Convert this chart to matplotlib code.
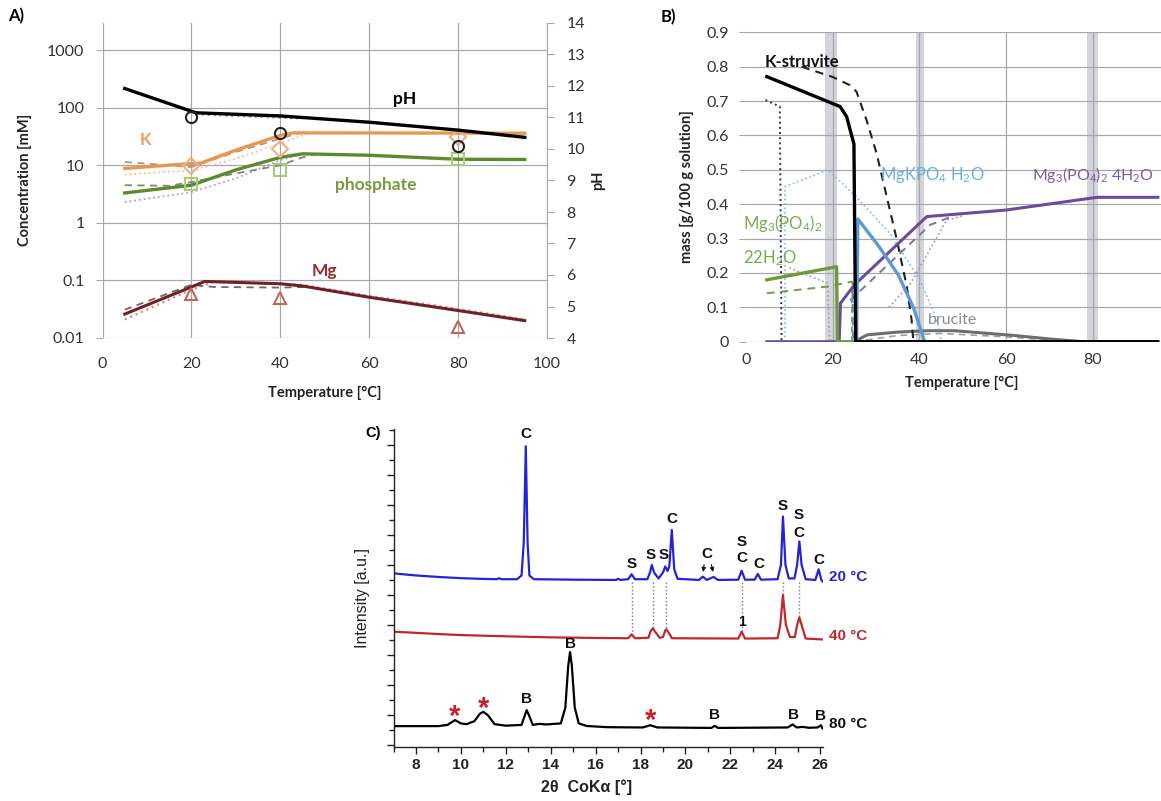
import numpy as np
import matplotlib
matplotlib.use('Agg')
import matplotlib.pyplot as plt
from matplotlib.ticker import FixedLocator, NullLocator, MultipleLocator

plt.rcParams['font.family'] = ['Lato', 'DejaVu Sans']
plt.rcParams['mathtext.fontset'] = 'custom'
plt.rcParams['mathtext.rm'] = 'Lato'
plt.rcParams['mathtext.it'] = 'Lato:italic'
plt.rcParams['mathtext.bf'] = 'Lato:bold'
plt.rcParams['axes.unicode_minus'] = False

# ---------------- panel A: solution composition vs temperature
tA_meas = [20, 40, 80]
ph_meas = [11.0, 10.5, 10.1]
k_meas = [9.8, 19.0, 31.0]
p_meas = [4.8, 8.2, 12.8]
mg_meas = [0.059, 0.050, 0.0155]

tA_ph = [5, 21, 40, 60, 80, 95]
ph_model = [11.92, 11.15, 11.05, 10.85, 10.6, 10.37]
tA_ph_dot = [21, 30, 45]
ph_dot = [11.10, 11.05, 10.97]

tA_k = [5, 20, 22, 30, 40, 43, 95]
k_model = [8.8, 10.7, 10.8, 18.3, 33.0, 36.5, 36.0]
tA_k_dash = [5, 20, 30, 40, 44]
k_dash = [11.4, 9.3, 17.0, 29.0, 36.0]
tA_k_dot = [5, 20, 30, 40, 46]
k_dot = [6.9, 8.1, 13.0, 24.0, 35.0]

tA_p = [5, 20, 30, 40, 45, 60, 80, 95]
p_model = [3.3, 4.5, 8.3, 13.7, 15.8, 14.9, 12.7, 12.6]
tA_p_dash = [5, 15, 20, 30, 40, 45, 48]
p_dash = [4.5, 4.4, 5.1, 7.2, 10.0, 13.7, 15.6]
tA_p_dot = [5, 20, 30, 40, 44]
p_dot = [2.3, 3.4, 5.9, 12.3, 15.0]

tA_mg = [5, 20, 23, 40, 45, 60, 80, 95]
mg_model = [0.026, 0.077, 0.096, 0.0875, 0.080, 0.051, 0.030, 0.020]
tA_mg_dash = [5, 20, 25, 40, 46]
mg_dash = [0.031, 0.084, 0.077, 0.075, 0.077]
tA_mg_dot = [5, 20, 25, 45, 60, 80, 95]
mg_dot = [0.021, 0.069, 0.094, 0.084, 0.054, 0.032, 0.021]

conc_ticks = [0.01, 0.1, 1, 10, 100, 1000]
conc_labels = ['0.01', '0.1', '1', '10', '100', '1000']

# ---------------- panel B: modelled phase assemblage
tB_kst = [4.8, 21.7, 23.2, 24.9, 25.3, 95]
kst = [0.771, 0.684, 0.655, 0.575, 0.0, 0.0]
tB_kst_dash = [12.8, 20.0, 24.0, 25.5, 27.8, 30.1, 32.5, 34.8, 37.1, 38.2, 38.6]
kst_dash = [0.80, 0.77, 0.746, 0.727, 0.645, 0.549, 0.42, 0.296, 0.16, 0.063, 0.0]
tB_kst_dot = [4.5, 7.8, 8.2]
kst_dot = [0.703, 0.684, 0.0]

tB_mgk = [25.5, 25.8, 30.5, 35.1, 38.6, 40.7, 41.2]
mgk = [0.0, 0.357, 0.28, 0.195, 0.10, 0.02, 0.0]
tB_mgk_dash = [24.4, 24.4]
mgk_dash = [0.0, 0.165]
tB_mgk_dot = [9.0, 9.0, 19.0, 25.5, 33.2, 40.1, 43.1, 44.7, 45.0]
mgk_dot = [0.0, 0.451, 0.50, 0.42, 0.315, 0.18, 0.092, 0.034, 0.0]

tB_mg22 = [4.8, 20.9, 21.1, 25.0]
mg22 = [0.18, 0.218, 0.0, 0.0]
tB_mg22_dash = [4.8, 18.6, 24.5, 24.7]
mg22_dash = [0.141, 0.16, 0.175, 0.0]
tB_mg22_dot = [10.0, 18.8, 19.3]
mg22_dot = [0.215, 0.17, 0.0]

tB_mg4 = [4.8, 21.5, 21.8, 25.0, 41.7, 60.0, 81.0, 95.0]
mg4 = [0.0, 0.0, 0.112, 0.165, 0.364, 0.383, 0.42, 0.42]
tB_mg4_dash = [24.0, 42.5, 47.0]
mg4_dash = [0.12, 0.34, 0.362]
tB_mg4_dot = [33.0, 38.0, 46.3, 50.0]
mg4_dot = [0.10, 0.17, 0.354, 0.366]

tB_bru = [25, 28, 35, 42, 48, 55, 62, 70, 78]
bru = [0.0, 0.02, 0.028, 0.032, 0.032, 0.025, 0.018, 0.008, 0.0]
tB_bru2 = [25, 35, 45, 60, 75]
bru2 = [0.0, 0.018, 0.024, 0.014, 0.0]

band_lo = [18.3, 39.3, 78.6]
band_hi = [20.9, 41.1, 81.2]

# ---------------- panel C: XRD patterns (2theta, intensity a.u.)
tt20 = [7.0, 8.0, 9.0, 10.0, 11.0, 11.6, 11.7, 11.8, 12.5, 12.7, 12.8, 12.89, 12.97, 13.05, 13.25,
        15.0, 16.9, 17.0, 17.1, 17.45, 17.6, 17.75, 18.3, 18.42, 18.5, 18.6, 18.8, 19.0, 19.1,
        19.2, 19.28, 19.39, 19.5, 19.65, 20.6, 20.77, 20.95, 21.25, 21.45, 22.35, 22.5, 22.65,
        23.08, 23.22, 23.36, 24.1, 24.25, 24.34, 24.45, 24.6, 24.85, 24.97, 25.07, 25.17, 25.35,
        25.78, 25.93, 26.05, 26.1]
i20 = [11.44, 11.3, 11.2, 11.12, 11.07, 11.05, 11.12, 11.05, 11.05, 11.3, 13.5, 19.9, 13.5, 11.3, 11.05,
       11.02, 11.0, 11.08, 11.0, 11.05, 11.38, 11.05, 11.05, 11.5, 12.0, 11.5, 11.1, 11.5, 11.9,
       11.6, 11.9, 14.33, 11.7, 11.08, 11.0, 11.22, 11.0, 11.2, 11.0, 11.02, 11.62, 11.02,
       11.02, 11.4, 11.02, 11.05, 12.0, 15.22, 12.0, 11.1, 11.1, 12.0, 13.56, 12.0, 11.05,
       11.0, 11.71, 11.0, 10.9]

tt40 = [7.0, 8.0, 9.0, 10.0, 12.0, 14.0, 16.0, 17.45, 17.6, 17.75, 18.35, 18.45, 18.55, 18.65, 18.85,
        19.0, 19.1, 19.15, 19.25, 19.4, 22.35, 22.5, 22.65, 24.1, 24.22, 24.34, 24.47, 24.65, 24.87,
        24.97, 25.07, 25.17, 25.35, 26.1]
i40 = [7.56, 7.48, 7.4, 7.33, 7.25, 7.18, 7.14, 7.12, 7.38, 7.12, 7.15, 7.6, 7.78, 7.55, 7.15,
       7.2, 7.65, 7.71, 7.5, 7.12, 7.1, 7.56, 7.1, 7.12, 8.0, 10.0, 8.0, 7.2, 7.2,
       8.0, 8.51, 8.0, 7.1, 7.04]

tt80 = [7.0, 9.0, 9.4, 9.74, 10.0, 10.25, 10.6, 10.85, 11.0, 11.2, 11.5, 12.0, 12.7, 12.85, 12.93,
        13.03, 13.2, 13.5, 13.8, 14.45, 14.65, 14.78, 14.86, 14.94, 15.07, 15.25, 15.6, 16.5, 18.1,
        18.43, 18.75, 21.15, 21.3, 21.45, 24.55, 24.77, 24.95, 25.2, 25.5, 25.88, 26.03, 26.1]
i80 = [1.27, 1.27, 1.35, 1.67, 1.45, 1.4, 1.6, 2.1, 2.22, 2.0, 1.4, 1.3, 1.35, 2.0, 2.33,
       2.0, 1.35, 1.42, 1.38, 1.45, 2.5, 5.3, 6.2, 5.3, 2.5, 1.45, 1.28, 1.2, 1.18,
       1.33, 1.18, 1.15, 1.29, 1.15, 1.18, 1.38, 1.18, 1.22, 1.16, 1.18, 1.33, 1.12]

# phase labels (C = K-struvite, S = Mg3(PO4)2 4H2O, B = brucite)
lab20_x = [12.89, 17.6, 18.47, 19.05, 19.39, 20.95, 22.5, 22.5, 23.25, 24.32, 25.04, 25.04, 25.93]
lab20_y = [20.7, 12.05, 12.65, 12.65, 15.05, 12.7, 13.5, 12.45, 12.05, 15.95, 15.3, 14.1, 12.3]
lab20_t = ['C', 'S', 'S', 'S', 'C', 'C', 'S', 'C', 'C', 'S', 'S', 'C', 'C']
arrow_x = [20.77, 21.25]
link_x = [17.6, 18.55, 19.15, 22.5, 24.34, 25.07]
link_top = [10.85, 10.85, 10.85, 10.85, 10.85, 10.85]
link_bot = [7.38, 7.78, 7.71, 7.56, 10.0, 8.51]
lab80_x = [12.93, 14.86, 21.3, 24.8, 26.03]
lab80_y = [3.05, 6.72, 2.0, 2.0, 1.95]
star_x = [9.72, 11.0, 18.43]
star_y = [2.35, 2.85, 2.05]

W, H = 1161.0, 801.0


def box(x0, y0, x1, y1):
    # pixel box (top-left origin) -> figure rect
    return [x0 / W, 1 - y1 / H, (x1 - x0) / W, (y1 - y0) / H]


fig = plt.figure(figsize=(W / 100, H / 100), dpi=100)
grid_c = '#A8A8A8'
tick_c = '#333333'

# ================= A
axA = fig.add_axes(box(102.5, 23, 547, 338))
axA.set_yscale('log')
axA.set_xlim(0, 100)
axA.set_ylim(0.01, 10 ** 3.47)
axA.set_xticks(np.arange(0, 101, 20))
axA.yaxis.set_major_locator(FixedLocator(conc_ticks))
axA.yaxis.set_minor_locator(NullLocator())
axA.set_yticklabels(conc_labels)
axA.grid(True, color=grid_c, lw=0.9)
axA.set_axisbelow(True)
for s in axA.spines.values():
    s.set_visible(False)
axA.tick_params(axis='y', length=5, color=grid_c, pad=8, labelsize=11.5, labelcolor=tick_c)
axA.tick_params(axis='x', length=0, pad=14, labelsize=11.5, labelcolor=tick_c)

c_k, c_p, c_mg = '#E8984E', '#5E8A2E', '#6E2228'
axA.plot(tA_k_dot, k_dot, ls=':', color='#F2BE98', lw=1.3)
axA.plot(tA_k_dash, k_dash, ls=(0, (4, 3)), color='#A89888', lw=1.3)
axA.plot(tA_k, k_model, color=c_k, lw=2.4)
axA.plot(tA_p_dot, p_dot, ls=':', color='#A0A8C8', lw=1.3)
axA.plot(tA_p_dash, p_dash, ls=(0, (4, 3)), color='#7C8A70', lw=1.3)
axA.plot(tA_p, p_model, color=c_p, lw=2.4)
axA.plot(tA_mg_dot, mg_dot, ls=':', color='#E08888', lw=1.6)
axA.plot(tA_mg_dash, mg_dash, ls=(0, (4, 3)), color='#806060', lw=1.3)
axA.plot(tA_mg, mg_model, color=c_mg, lw=2.2)
axA.plot(tA_meas, k_meas, ls='none', marker='D', ms=8, mfc='none', mec='#F0B080', mew=1.5)
axA.plot(tA_meas, p_meas, ls='none', marker='s', ms=8, mfc='none', mec='#A8CC78', mew=1.5)
axA.plot(tA_meas, mg_meas, ls='none', marker='^', ms=8, mfc='none', mec='#C06858', mew=1.5)

axA.text(9.7, 27, 'K', color='#E8A060', fontsize=12, fontweight='bold', ha='center', va='center')
axA.text(61.5, 4.5, 'phosphate', color='#7A9A40', fontsize=12.5, fontweight='bold', ha='center', va='center')
axA.text(50, 0.145, 'Mg', color='#9B2D30', fontsize=12.5, fontweight='bold', ha='center', va='center')
axA.text(68, 141, 'pH', color='black', fontsize=12.5, fontweight='bold', ha='center', va='center')

axA2 = axA.twinx()
axA2.set_ylim(4, 14)
axA2.set_yticks(np.arange(4, 15, 1))
for s in axA2.spines.values():
    s.set_visible(False)
axA2.spines['right'].set_visible(True)
axA2.spines['right'].set_color(grid_c)
axA2.tick_params(axis='y', length=5, color=grid_c, pad=9, labelsize=11.5, labelcolor=tick_c)
axA2.plot(tA_ph_dot, ph_dot, ls=':', color='#909090', lw=1.6)
axA2.plot(tA_ph, ph_model, color='black', lw=2.4)
axA2.plot(tA_meas, ph_meas, ls='none', marker='o', ms=8, mfc='none', mec='#222222', mew=1.5)

fig.text(16 / W, 1 - 16 / H, 'A)', fontsize=12, fontweight='bold', ha='center', va='center')
fig.text(25 / W, 1 - 180 / H, 'Concentration [mM]', rotation=90, fontsize=10.5, fontweight='bold',
         ha='center', va='center', color='#222222')
fig.text(598 / W, 1 - 180 / H, 'pH', rotation=90, fontsize=10.5, fontweight='bold',
         ha='center', va='center', color='#222222')
fig.text(325 / W, 1 - 393 / H, 'Temperature [°C]', fontsize=10.5, fontweight='bold',
         ha='center', va='center', color='#222222')

# ================= B
axB = fig.add_axes(box(746, 32.3, 1179.5, 341.7))
axB.set_xlim(0, 100)
axB.set_ylim(0, 0.9)
axB.set_xticks(np.arange(0, 81, 20))
axB.set_yticks(np.arange(0, 0.91, 0.1))
axB.set_yticklabels(['0'] + ['%.1f' % v for v in np.arange(0.1, 0.91, 0.1)])
axB.grid(True, color=grid_c, lw=0.9)
axB.set_axisbelow(True)
axB.xaxis.get_gridlines()[0].set_visible(False)
for s in axB.spines.values():
    s.set_visible(False)
axB.tick_params(axis='y', length=5, color=grid_c, pad=7, labelsize=11.5, labelcolor=tick_c)
axB.tick_params(axis='x', length=0, pad=8, labelsize=11.5, labelcolor=tick_c)
for lo, hi in zip(band_lo, band_hi):
    axB.axvspan(lo, hi, color='#D4D4DC', lw=0, zorder=0.4)

c_blue, c_pur, c_grn = '#5B9BD5', '#6A4C9C', '#6E9A3A'
axB.plot(tB_bru2, bru2, color='#A0A0A0', lw=1.2, ls=(0, (4, 3)))
axB.plot(tB_bru, bru, color='#6E6E6E', lw=2.2)
axB.plot(tB_mgk_dot, mgk_dot, ls=':', color='#8DB4E2', lw=1.2)
axB.plot(tB_kst_dot, kst_dot, ls=':', color='#1F3864', lw=1.4)
axB.plot(tB_mg22_dot, mg22_dot, ls=':', color='#A0A0A0', lw=1.2)
axB.plot(tB_mg4_dot, mg4_dot, ls=':', color='#A090C0', lw=1.2)
axB.plot(tB_mg22_dash, mg22_dash, ls=(0, (4, 3)), color='#7A9A4A', lw=1.4)
axB.plot(tB_mg4_dash, mg4_dash, ls=(0, (4, 3)), color='#8070A8', lw=1.4)
axB.plot(tB_mgk_dash, mgk_dash, ls=(0, (3, 2)), color=c_blue, lw=1.4)
axB.plot(tB_kst_dash, kst_dash, ls=(0, (4, 3)), color='#222222', lw=1.5)
axB.plot(tB_mg4, mg4, color=c_pur, lw=2.2)
axB.plot(tB_mg22, mg22, color=c_grn, lw=2.4)
axB.plot(tB_mgk, mgk, color=c_blue, lw=2.4)
axB.plot(tB_kst, kst, color='black', lw=2.4)

axB.text(4.4, 0.813, 'K-struvite', color='#111111', fontsize=12, fontweight='bold', ha='left', va='center')
axB.text(31, 0.484, r'MgKPO$_4$ H$_2$O', color='#6AAEE8', fontsize=12, ha='left', va='center')
axB.text(65.9, 0.484, r'Mg$_3$(PO$_4$)$_2$ 4H$_2$O', color='#7A5CA8', fontsize=11.5, ha='left', va='center')
axB.text(-0.6, 0.344, r'Mg$_3$(PO$_4$)$_2$', color='#80A850', fontsize=12, ha='left', va='center')
axB.text(-0.6, 0.243, r'22H$_2$O', color='#80A850', fontsize=12, ha='left', va='center')
axB.text(42, 0.063, 'brucite', color='#8C8C8C', fontsize=11.5, ha='left', va='center')

fig.text(668 / W, 1 - 17 / H, 'B)', fontsize=12, fontweight='bold', ha='center', va='center')
fig.text(687 / W, 1 - 187 / H, 'mass [g/100 g solution]', rotation=90, fontsize=10.5, fontweight='bold',
         ha='center', va='center', color='#222222')
fig.text(962 / W, 1 - 383 / H, 'Temperature [°C]', fontsize=10.5, fontweight='bold',
         ha='center', va='center', color='#222222')

# ================= C
arial = 'Liberation Sans'
axC = fig.add_axes(box(393.5, 429, 822.5, 747))
axC.set_xlim(7, 26.1)
axC.set_ylim(-0.12, 21.05)
for s in ['top', 'right']:
    axC.spines[s].set_visible(False)
for s in ['left', 'bottom']:
    axC.spines[s].set_color('#222222')
    axC.spines[s].set_linewidth(1.0)
xt = np.arange(8, 27, 2)
axC.set_xticks(xt)
axC.set_xticklabels(['%d' % v for v in xt], fontweight='bold', family=arial, fontsize=11)
axC.xaxis.set_minor_locator(MultipleLocator(1))
axC.yaxis.set_major_locator(MultipleLocator(2))
axC.yaxis.set_minor_locator(MultipleLocator(1))
axC.tick_params(axis='both', which='major', length=5, width=1, color='#222222', direction='out')
axC.tick_params(axis='both', which='minor', length=3.5, width=1, color='#222222', direction='out')
axC.tick_params(axis='y', labelleft=False)
axC.tick_params(axis='x', pad=3, labelcolor='#222222')

c20, c40 = '#2323D8', '#C0282D'
for x, y0, y1 in zip(link_x, link_top, link_bot):
    axC.plot([x, x], [y0, y1], ls=':', color='#777777', lw=1.0)
axC.plot(tt20, i20, color=c20, lw=1.6)
axC.plot(tt40, i40, color=c40, lw=1.6)
axC.plot(tt80, i80, color='black', lw=1.6)

for x, y, t in zip(lab20_x, lab20_y, lab20_t):
    axC.text(x, y, t, fontsize=11, family=arial, fontweight='bold', ha='center', va='center',
             color='#111111')
for x in arrow_x:
    axC.annotate('', xy=(x, 11.35), xytext=(20.95 + (x - 20.95) * 0.6, 12.2),
                 arrowprops=dict(arrowstyle='-|>', color='#111111', lw=0.8, mutation_scale=6))
axC.text(22.5, 8.2, '1', fontsize=10, family=arial, fontweight='bold', ha='center', va='center',
         color='#111111')
for x, y in zip(lab80_x, lab80_y):
    axC.text(x, y, 'B', fontsize=11, family=arial, fontweight='bold', ha='center', va='center',
             color='#111111')
for x, y in zip(star_x, star_y):
    axC.text(x, y - 0.45, '*', fontsize=21, family=arial, fontweight='bold', ha='center',
             va='center', color='#C8202A')

axC.text(26.4, 11.2, '20 °C', color=c20, fontsize=11, fontweight='bold', family=arial,
         ha='left', va='center', clip_on=False)
axC.text(26.4, 7.3, '40 °C', color=c40, fontsize=11, fontweight='bold', family=arial,
         ha='left', va='center', clip_on=False)
axC.text(26.4, 1.4, '80 °C', color='#111111', fontsize=11, fontweight='bold', family=arial,
         ha='left', va='center', clip_on=False)

fig.text(373 / W, 1 - 433 / H, 'C)', fontsize=10.5, fontweight='bold', family=arial,
         ha='center', va='center')
fig.text(362 / W, 1 - 598 / H, 'Intensity [a.u.]', rotation=90, fontsize=11.5, family=arial,
         ha='center', va='center', color='#222222')
fig.text(587 / W, 1 - 787 / H, '2θ  CoKα [°]', fontsize=11.5, fontweight='bold', family=arial,
         ha='center', va='center', color='#222222')

fig.savefig('out.png', dpi=100)
